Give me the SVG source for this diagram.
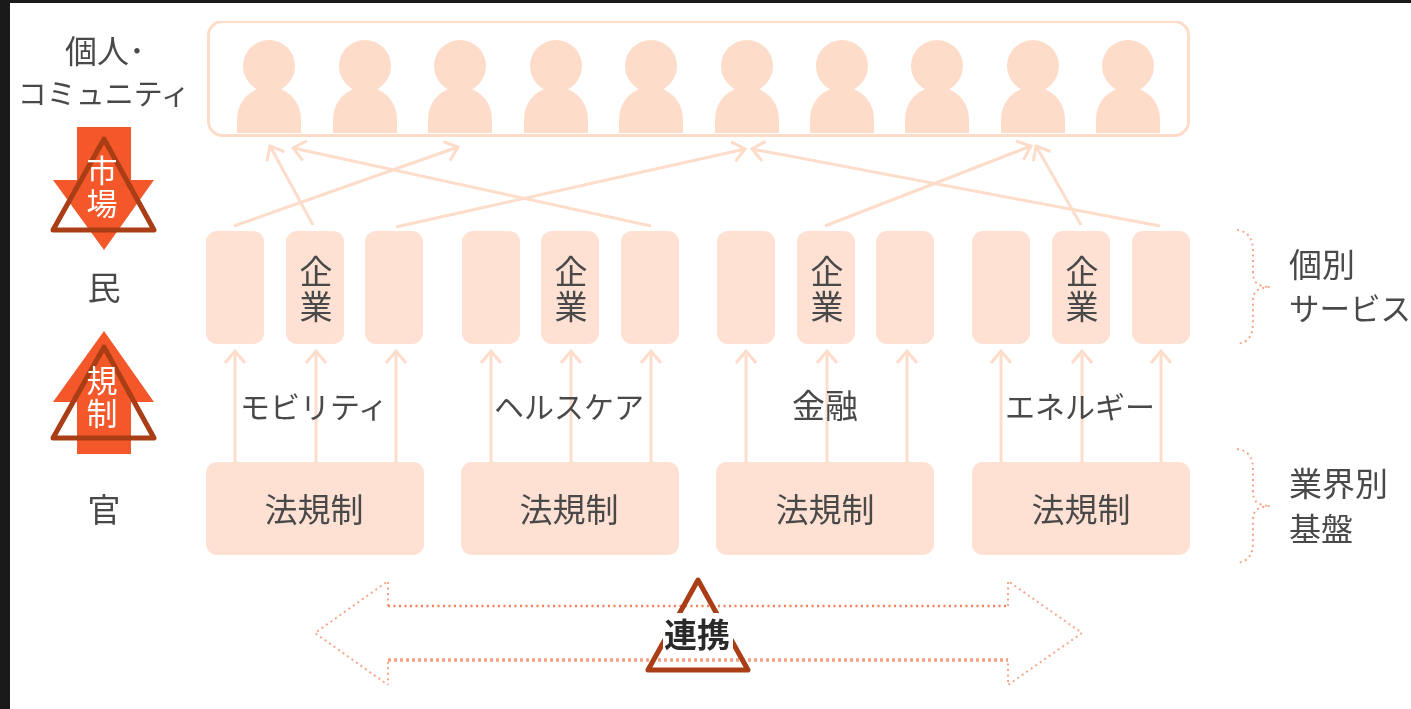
<svg xmlns="http://www.w3.org/2000/svg" xmlns:xlink="http://www.w3.org/1999/xlink" width="1411" height="709" viewBox="0 0 1411 709">
<style>
text{font-family:"Noto Sans CJK JP","Liberation Sans",sans-serif;fill:#4a4a4a;font-size:33px;text-anchor:middle}
.l{text-anchor:start}
.s{font-size:30px}
.v{writing-mode:vertical-rl;letter-spacing:2px}
.w{fill:#fff;font-size:31px}
.b{font-weight:700;fill:#2b2b2b;font-size:33px}
.box{fill:#fee1d3}
.person{fill:#fddcca}
.conn{fill:none;stroke:#fddcca;stroke-width:3}
.tri{fill:none;stroke:#a83c15;stroke-width:5;stroke-linejoin:round}
.big{fill:#f4592a}
.dot{fill:none;stroke:#f4805a;stroke-width:2.4;stroke-dasharray:2 3.500}
.dim{opacity:.7;stroke-width:2}
</style>
<defs>
<filter id="soft" x="0" y="0" width="100%" height="100%"><feGaussianBlur stdDeviation="0.6"/></filter>
<marker id="ah" markerUnits="userSpaceOnUse" markerWidth="26" markerHeight="24" refX="22" refY="12" orient="auto"><path d="M10 2L22 12L10 22" fill="none" stroke="#fddcca" stroke-width="3"/></marker>
<g id="p"><circle cx="0" cy="66" r="26" class="person"/><path d="M-32 133V120C-32 100-17 87 0 87C17 87 32 100 32 120V133Z" class="person"/></g>
</defs>
<rect width="1411" height="709" fill="#fff"/>
<g filter="url(#soft)">
<g id="connectors">
<path class="conn" marker-end="url(#ah)" d="M313 225L270 146"/>
<path class="conn" marker-end="url(#ah)" d="M234 226L458 147"/>
<path class="conn" marker-end="url(#ah)" d="M651 226L293 148"/>
<path class="conn" marker-end="url(#ah)" d="M396 227L745 149"/>
<path class="conn" marker-end="url(#ah)" d="M1160 226L752 149"/>
<path class="conn" marker-end="url(#ah)" d="M825 226L1031 146"/>
<path class="conn" marker-end="url(#ah)" d="M1081 225L1036 146"/>
<path class="conn" marker-end="url(#ah)" d="M235 462V351"/>
<path class="conn" marker-end="url(#ah)" d="M316 462V351"/>
<path class="conn" marker-end="url(#ah)" d="M396 462V351"/>
<path class="conn" marker-end="url(#ah)" d="M491 462V351"/>
<path class="conn" marker-end="url(#ah)" d="M571 462V351"/>
<path class="conn" marker-end="url(#ah)" d="M651 462V351"/>
<path class="conn" marker-end="url(#ah)" d="M746 462V351"/>
<path class="conn" marker-end="url(#ah)" d="M827 462V351"/>
<path class="conn" marker-end="url(#ah)" d="M907 462V351"/>
<path class="conn" marker-end="url(#ah)" d="M1001 462V351"/>
<path class="conn" marker-end="url(#ah)" d="M1082 462V351"/>
<path class="conn" marker-end="url(#ah)" d="M1161 462V351"/>
</g>

<g id="community">
<rect x="208.500" y="21.500" width="980" height="114" rx="14" fill="#fff" stroke="#fddcca" stroke-width="3"/>
<use xlink:href="#p" href="#p" x="269"/><use xlink:href="#p" href="#p" x="365"/><use xlink:href="#p" href="#p" x="460"/><use xlink:href="#p" href="#p" x="556"/><use xlink:href="#p" href="#p" x="651"/><use xlink:href="#p" href="#p" x="747"/><use xlink:href="#p" href="#p" x="842"/><use xlink:href="#p" href="#p" x="937"/><use xlink:href="#p" href="#p" x="1033"/><use xlink:href="#p" href="#p" x="1128"/>
</g>

<g id="label-community"><text><tspan x="105" y="63" style="font-size:32px">個人･</tspan><tspan x="104" y="105" style="font-size:29px">コミュニティ</tspan></text></g>

<g id="market">
<path class="big" d="M77 127H131V180H154L104 250L53 180H77Z"/>
<path class="tri" d="M104 139L154 230H53Z"/>
<text class="w v" x="102" y="188">市場</text>
</g>
<g id="label-min"><text x="104" y="300">民</text></g>
<g id="regulation">
<path class="big" d="M104 331L154 402H131V454H77V402H53Z"/>
<path class="tri" d="M104 347L154 438H53Z"/>
<text class="w v" x="102" y="398">規制</text>
</g>
<g id="label-kan"><text x="104" y="522">官</text></g>

<g id="c1a"><rect class="box" x="206" y="231" width="58" height="113" rx="11"/></g>
<g id="c1b"><rect class="box" x="286" y="231" width="58" height="113" rx="11"/><text class="v" x="316" y="290">企業</text></g>
<g id="c1c"><rect class="box" x="365" y="231" width="58" height="113" rx="11"/></g>
<g id="c2a"><rect class="box" x="462" y="231" width="58" height="113" rx="11"/></g>
<g id="c2b"><rect class="box" x="541" y="231" width="58" height="113" rx="11"/><text class="v" x="571" y="290">企業</text></g>
<g id="c2c"><rect class="box" x="621" y="231" width="58" height="113" rx="11"/></g>
<g id="c3a"><rect class="box" x="717" y="231" width="58" height="113" rx="11"/></g>
<g id="c3b"><rect class="box" x="797" y="231" width="58" height="113" rx="11"/><text class="v" x="827" y="290">企業</text></g>
<g id="c3c"><rect class="box" x="876" y="231" width="58" height="113" rx="11"/></g>
<g id="c4a"><rect class="box" x="972" y="231" width="58" height="113" rx="11"/></g>
<g id="c4b"><rect class="box" x="1052" y="231" width="58" height="113" rx="11"/><text class="v" x="1082" y="290">企業</text></g>
<g id="c4c"><rect class="box" x="1132" y="231" width="58" height="113" rx="11"/></g>

<g id="sector-labels">
<text class="s" x="314" y="418">モビリティ</text>
<text class="s" x="569" y="418">ヘルスケア</text>
<text class="s" x="825" y="418" style="font-size:33px">金融</text>
<text class="s" x="1080" y="418">エネルギー</text>
</g>

<g id="law1"><rect class="box" x="206" y="462" width="218" height="93" rx="11"/><text x="314" y="522">法規制</text></g>
<g id="law2"><rect class="box" x="461" y="462" width="218" height="93" rx="11"/><text x="569" y="522">法規制</text></g>
<g id="law3"><rect class="box" x="716" y="462" width="218" height="93" rx="11"/><text x="825" y="522">法規制</text></g>
<g id="law4"><rect class="box" x="972" y="462" width="218" height="93" rx="11"/><text x="1081" y="522">法規制</text></g>

<g id="brace1"><path class="dot dim" d="M1237 230C1250 232 1253 240 1253 252V272C1253 282 1256 286 1270 287C1256 288 1253 292 1253 302V322C1253 334 1250 342 1237 344"/><text class="l"><tspan x="1289" y="277">個別</tspan><tspan x="1289" y="320" style="font-size:30.500px">サービス</tspan></text></g>
<g id="brace2"><path class="dot dim" d="M1237 449C1250 451 1253 459 1253 471V491C1253 501 1256 505 1270 506C1256 507 1253 511 1253 521V541C1253 553 1250 561 1237 563"/><text class="l"><tspan x="1289" y="496">業界別</tspan><tspan x="1289" y="541" style="font-size:32px">基盤</tspan></text></g>

<g id="collaboration">
<path class="dot dim" d="M388 606V581L315 633L388 685V660M1008 606V581L1082 633L1008 685V660"/>
<path class="dot" d="M388 606H1008"/>
<path class="dot" style="stroke-width:3.400;stroke-dasharray:3 3;opacity:.75" d="M388 660H1008"/>
<path class="tri" d="M698 580L748 670H648Z"/>
<rect x="663" y="613" width="70" height="40" fill="#fff"/>
<text class="b" x="697" y="647">連携</text>
</g>
</g>
<path id="frame" d="M0 0H1411V3H10V709H0Z" fill="#1a1a1a"/>
</svg>
